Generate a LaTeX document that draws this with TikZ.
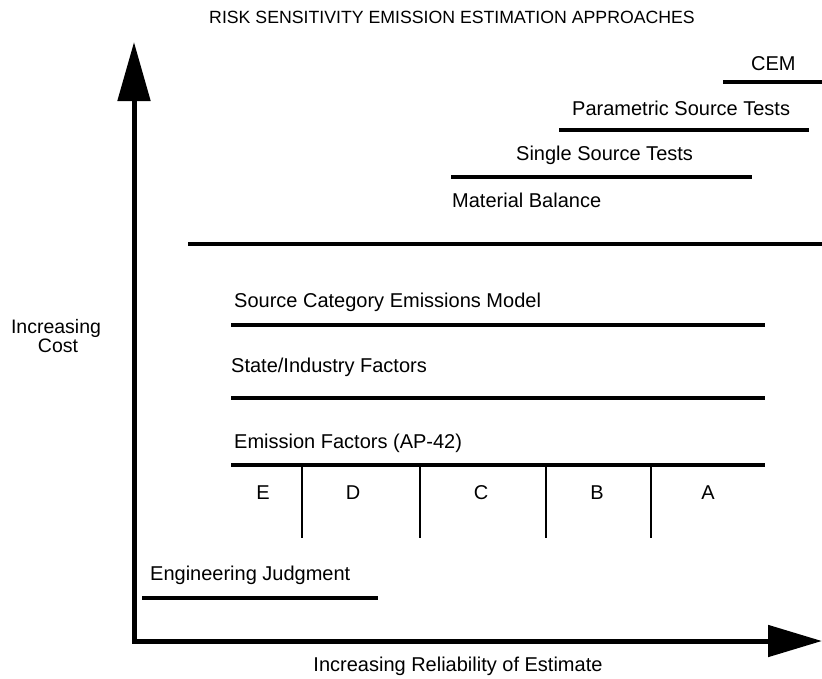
\documentclass[tikz,border=0pt]{standalone}
\usepackage{fontspec}
\setmainfont{Liberation Sans}
\usetikzlibrary{arrows.meta}
\begin{document}
\begin{tikzpicture}[x=1pt,y=-1pt,
  lbl/.style={anchor=base west,inner sep=0pt,font=\fontsize{20}{22}\selectfont},
  ctr/.style={anchor=base,inner sep=0pt,font=\fontsize{20}{22}\selectfont},
  bar/.style={line width=4pt},
  divider/.style={line width=2pt},
  axis/.style={line width=5pt}]
\useasboundingbox (0,0) rectangle (822,678);
% title
\node[anchor=base,inner sep=0pt,font=\fontsize{17.7}{20}\selectfont] (title) at (452,23) {RISK SENSITIVITY EMISSION ESTIMATION APPROACHES};
% axes
\coordinate (vtip) at (134,42);
\coordinate (corner) at (136,641);
\coordinate (htip) at (822,641);
\draw[axis,{Triangle[length=59pt,width=32pt]}-{Triangle[length=54pt,width=31pt]}] (vtip) |- (htip);
% axis labels
\node[anchor=base,inner sep=0pt,font=\fontsize{19.5}{21}\selectfont,align=center] (cost1) at (56,333) {Increasing};
\node[anchor=base,inner sep=0pt,font=\fontsize{19.5}{21}\selectfont] (cost2) at (58,352) {Cost};
\node[ctr] (rel) at (458,671) {Increasing Reliability of Estimate};
% upper group
\node[lbl] (cem) at (751,70) {CEM};
\draw[bar] (723,82) -- (822,82);
\node[lbl] (pst) at (572,115) {Parametric Source Tests};
\draw[bar] (559,130) -- (809,130);
\node[lbl] (sst) at (516,160) {Single Source Tests};
\draw[bar] (451,177) -- (752,177);
\node[lbl] (mb) at (452,207) {Material Balance};
% long separator
\draw[bar] (188,244) -- (822,244);
% middle group
\node[lbl] (scem) at (234,307) {Source Category Emissions Model};
\draw[bar] (231,325) -- (765,325);
\node[lbl] (sif) at (231,372) {State/Industry Factors};
\draw[bar] (231,398) -- (765,398);
\node[lbl] (ef) at (234,448) {Emission Factors (AP-42)};
\draw[bar] (231,465) -- (765,465);
% rating dividers
\foreach \x in {302,420,546,651} \draw[divider] (\x,465) -- (\x,538);
\node[ctr] (rE) at (263,499) {E};
\node[ctr] (rD) at (353,499) {D};
\node[ctr] (rC) at (481,499) {C};
\node[ctr] (rB) at (597,499) {B};
\node[ctr] (rA) at (708,499) {A};
% engineering judgment
\node[lbl] (ej) at (150,580) {Engineering Judgment};
\draw[bar] (142,598) -- (378,598);
\end{tikzpicture}
\end{document}
